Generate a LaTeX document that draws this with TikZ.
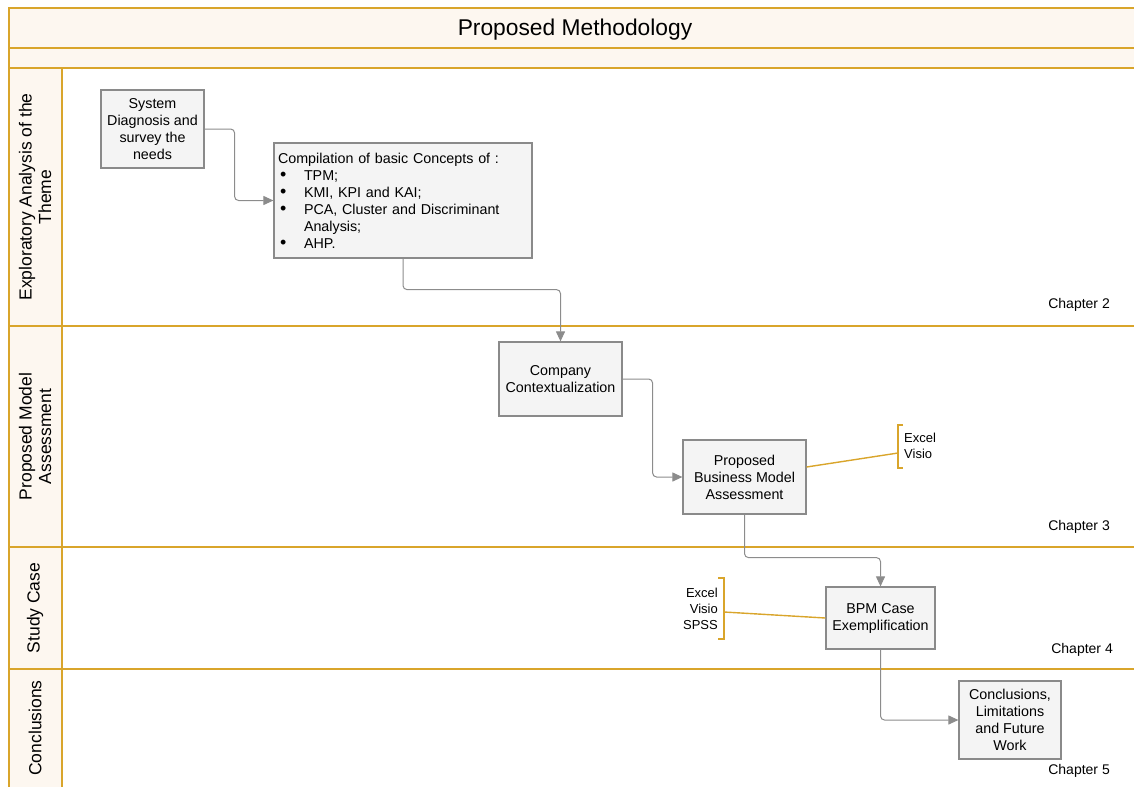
\documentclass[tikz,border=0pt]{standalone}
\usepackage{fontspec}
\setmainfont{Liberation Sans}
\usetikzlibrary{arrows.meta}
\definecolor{lanegold}{HTML}{D9A52B}
\definecolor{lanefill}{HTML}{FDF7F0}
\definecolor{boxfill}{HTML}{F4F4F4}
\definecolor{boxline}{HTML}{8A8A8A}
\definecolor{flowline}{HTML}{8C8C8C}
\newcommand{\itembullet}{\makebox[26pt][l]{\hspace*{2pt}\scalebox{1.25}{\textbullet}}}
\begin{document}
\begin{tikzpicture}[x=1pt,y=-1pt,
  lane/.style={draw=lanegold,line width=1.8pt},
  stepbox/.style={draw=boxline,fill=boxfill,line width=1.2pt,align=center,
    inner sep=2pt,font=\fontsize{14.3}{17}\selectfont},
  flow/.style={draw=flowline,line width=1pt,rounded corners=4pt,
    -{Triangle[length=10pt,width=9pt]}},
  tool/.style={draw=lanegold,line width=1.4pt},
  toollabel/.style={font=\fontsize{13}{16}\selectfont,inner sep=0pt},
  lanelabel/.style={rotate=90,align=center,font=\fontsize{17.5}{19.5}\selectfont},
  chapter/.style={anchor=east,font=\fontsize{14}{16}\selectfont,inner sep=0pt}]
\useasboundingbox (0,0) rectangle (1134,787);

% header band and lane-title column
\fill[lanefill] (9,8) rectangle (1134,68);
\fill[lanefill] (9,68) rectangle (62,787);

% pool frame and lane dividers
\draw[lane] (1134,8) -- (9,8) -- (9,787);
\draw[lane] (9,48) -- (1134,48);
\draw[lane] (9,68) -- (1134,68);
\draw[lane] (62,68) -- (62,787);
\draw[lane] (9,326) -- (1134,326);
\draw[lane] (9,547) -- (1134,547);
\draw[lane] (9,669) -- (1134,669);

\node[font=\fontsize{22.8}{26}\selectfont] (title) at (575,29.5) {Proposed Methodology};

% lane titles
\node[lanelabel] (l1) at (35,197) {Exploratory Analysis of the\\Theme};
\node[lanelabel] (l2) at (35,436.5) {Proposed Model\\Assessment};
\node[lanelabel] (l3) at (35,608) {Study Case};
\node[lanelabel] (l4) at (35,728) {Conclusions};

% chapter tags
\node[chapter] (c2) at (1110,305) {Chapter 2};
\node[chapter] (c3) at (1110,527) {Chapter 3};
\node[chapter] (c4) at (1113,650) {Chapter 4};
\node[chapter] (c5) at (1110,771) {Chapter 5};

% process steps
\node[stepbox,minimum width=103pt,minimum height=78pt] (sys) at (152.5,129)
  {System\\Diagnosis and\\survey the\\needs};
\node[stepbox,minimum width=258pt,minimum height=115pt,text width=250pt,align=left] (comp) at (403,200.5)
  {Compilation of basic Concepts of :\\
   \itembullet TPM;\\
   \itembullet KMI, KPI and KAI;\\
   \itembullet PCA, Cluster and Discriminant\\
   \hspace*{26pt}Analysis;\\
   \itembullet AHP.};
\node[stepbox,minimum width=123pt,minimum height=74pt] (ctx) at (560.5,379)
  {Company\\Contextualization};
\node[stepbox,minimum width=123pt,minimum height=74pt] (pbm) at (744.5,477)
  {Proposed\\Business Model\\Assessment};
\node[stepbox,minimum width=109pt,minimum height=62pt] (bpm) at (880.5,618)
  {BPM Case\\Exemplification};
\node[stepbox,minimum width=102pt,minimum height=78pt] (conc) at (1010,720)
  {Conclusions,\\Limitations\\and Future\\Work};

% sequence flow
\draw[flow] (sys.east) -- ++(30,0) |- (comp.west);
\draw[flow] (comp.south) -- ++(0,31) -| (ctx.north);
\draw[flow] (ctx.east) -- ++(30,0) |- (pbm.west);
\draw[flow] (pbm.south) -- ++(0,43) -| (bpm.north);
\draw[flow] (bpm.south) |- (conc.west);

% tool annotations
\coordinate (t1) at (898,453);
\draw[tool] (903,425) -- (898,425) -- (898,468) -- (903,468);
\node[toollabel,anchor=west,align=left] (t1text) at (904,446) {Excel\\Visio};
\draw[tool] ([yshift=10pt]pbm.east) -- (t1);

\coordinate (t2) at (724,612);
\draw[tool] (718,578) -- (724,578) -- (724,639) -- (718,639);
\node[toollabel,anchor=east,align=right] (t2text) at (718,609) {Excel\\Visio\\SPSS};
\draw[tool] (bpm.west) -- (t2);
\end{tikzpicture}
\end{document}
